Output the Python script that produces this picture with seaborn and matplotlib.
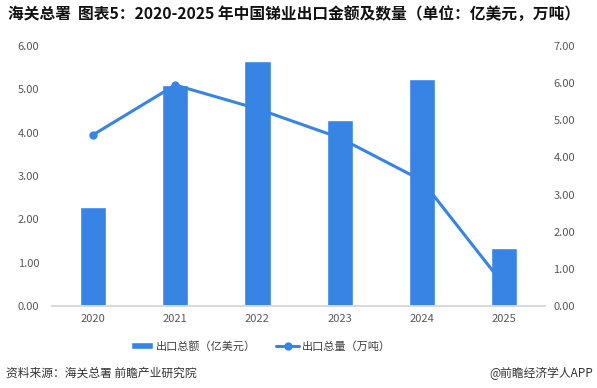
import pandas as pd
import matplotlib.pyplot as plt
import seaborn as sns

# chart data
years = ['2020', '2021', '2022', '2023', '2024', '2025']
export_value = [2.29, 5.10, 5.66, 4.30, 5.24, 1.34]   # 亿美元
export_volume = [4.61, 5.95, 5.31, 4.53, 3.38, 0.56]  # 万吨

df = pd.DataFrame({'year': years, 'value': export_value, 'volume': export_volume})

sns.set_theme(style='white')
plt.rcParams['font.family'] = ['Noto Sans CJK SC', 'DejaVu Sans']

blue = '#3884e4'
grey = '#595959'

fig = plt.figure(figsize=(5.97, 3.88), dpi=100)
ax = fig.add_axes([0.0871, 0.2113, 0.826, 0.6701])

sns.barplot(data=df, x='year', y='value', color=blue, width=0.32,
            saturation=1, ax=ax, label='出口总额（亿美元）')
if ax.get_legend() is not None:
    ax.get_legend().remove()
ax.set_ylim(0, 6)
ax.set_yticks(range(0, 7))
ax.set_yticklabels([f'{v:.2f}' for v in range(0, 7)])
ax.set_xlabel('')
ax.set_ylabel('')

ax2 = ax.twinx()
sns.lineplot(data=df, x='year', y='volume', color=blue, linewidth=2.2,
             marker='o', markersize=6, markeredgewidth=0, markevery=[0, 1],
             ax=ax2, label='出口总量（万吨）', legend=False)
if ax2.get_legend() is not None:
    ax2.get_legend().remove()
ax2.set_ylim(0, 7)
ax2.set_yticks(range(0, 8))
ax2.set_yticklabels([f'{v:.2f}' for v in range(0, 8)])
ax2.set_ylabel('')
ax.set_xlim(-0.5, 5.5)

for a in (ax, ax2):
    for s in ('top', 'left', 'right'):
        a.spines[s].set_visible(False)
    a.spines['bottom'].set_color('#d9d9d9')
    a.tick_params(axis='both', length=0, labelsize=8, colors=grey, pad=6)
    a.grid(False)
ax.tick_params(axis='y', pad=9)
ax2.tick_params(axis='y', pad=6)

# legend under the plot
h1, l1 = ax.get_legend_handles_labels()
h2, l2 = ax2.get_legend_handles_labels()
fig.legend(h1 + h2, l1 + l2, loc='center', bbox_to_anchor=(0.437, 0.108), ncol=2,
           frameon=False, fontsize=8, handlelength=2.0, columnspacing=1.8,
           handletextpad=0.3, labelcolor='#404040')

fig.text(0.013, 0.963, '海关总署  图表5：2020-2025 年中国锑业出口金额及数量（单位：亿美元，万吨）',
         fontsize=11.3, fontweight='bold', color='#111111', va='center')
fig.text(0.01, 0.038, '资料来源：海关总署 前瞻产业研究院', fontsize=8.5,
         color='#333333', va='center')
fig.text(0.993, 0.038, '@前瞻经济学人APP', fontsize=8.5, color='#333333',
         va='center', ha='right')

fig.savefig('out.png', dpi=100)
